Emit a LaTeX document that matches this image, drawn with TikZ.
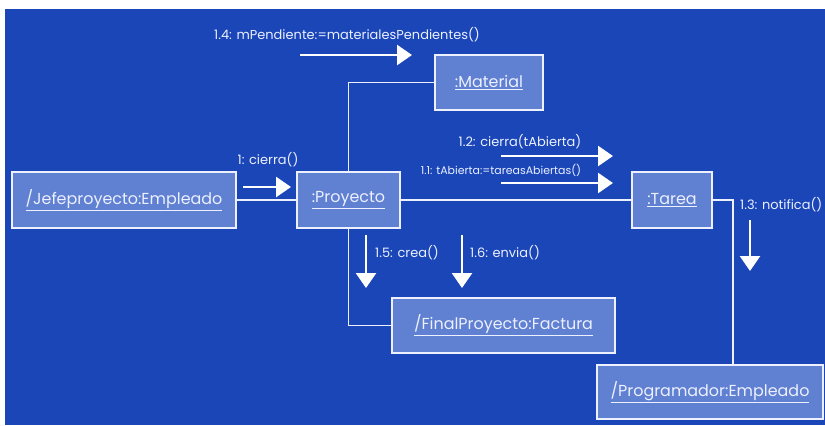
\documentclass[tikz,border=0pt]{standalone}
\usepackage{fontspec}
\setmainfont{Poppins}
\usetikzlibrary{arrows.meta}
\definecolor{fondo}{RGB}{26,70,184}
\definecolor{caja}{RGB}{96,128,210}
\definecolor{tinta}{RGB}{236,240,255}

\begin{document}
\begin{tikzpicture}[x=1bp,y=-1bp,
   objeto/.style={draw=tinta,fill=caja,line width=1.6bp,inner sep=0pt,
      text=tinta,font=\fontsize{16}{18}\selectfont},
   enlace/.style={draw=tinta,line width=1.8bp},
   mensaje/.style={draw=white,line width=2.6bp,
      -{Triangle[length=15bp,width=20bp]}},
   etiqueta/.style={text=tinta,inner sep=0pt,font=\fontsize{13}{15}\selectfont}
]
   \useasboundingbox (0,0) rectangle (825,425);
   \fill[fondo] (5,9) rectangle (825,425);

   % objetos
   \node[objeto,minimum width=224bp,minimum height=56bp] (jefe) at (124,200)
      {\underline{/Jefeproyecto:Empleado}};
   \node[objeto,minimum width=103bp,minimum height=56bp] (proy) at (348.5,200)
      {\underline{:Proyecto}};
   \node[objeto,minimum width=108bp,minimum height=55bp] (mat) at (489,82.5)
      {\underline{:Material}};
   \node[objeto,minimum width=80bp,minimum height=56bp] (tarea) at (672,200)
      {\underline{:Tarea}};
   \node[objeto,minimum width=223bp,minimum height=55bp] (fact) at (503.5,325.5)
      {\underline{/FinalProyecto:Factura}};
   \node[objeto,minimum width=226bp,minimum height=54bp] (prog) at (710,392)
      {\underline{/Programador:Empleado}};

   % enlaces
   \coordinate (codo) at (733,200);
   \draw[enlace] (jefe) -- (proy);
   \draw[enlace] (proy) -- (tarea);
   \draw[enlace] (proy.north) |- (mat.west);
   \draw[enlace] (proy.south) |- (fact.west);
   \draw[enlace] (tarea.east) -- (codo) -- (codo |- prog.north);

   % mensajes
   \coordinate (m14a) at (300,55);  \coordinate (m14b) at (412,55);
   \coordinate (m1a) at (243,187);  \coordinate (m1b) at (291,187);
   \coordinate (m12a) at (501,156); \coordinate (m12b) at (613,156);
   \coordinate (m11a) at (501,183); \coordinate (m11b) at (613,183);
   \coordinate (m15a) at (366,235); \coordinate (m15b) at (366,288);
   \coordinate (m16a) at (462,235); \coordinate (m16b) at (462,288);
   \coordinate (m13a) at (750,220); \coordinate (m13b) at (750,271);
   \foreach \m in {m14,m1,m12,m11,m15,m16,m13} {
      \draw[mensaje] (\m a) -- (\m b);
   }

   \node[etiqueta] (e14) at (347,35) {1.4: mPendiente:=materialesPendientes()};
   \node[etiqueta] (e1) at (268,160) {1: cierra()};
   \node[etiqueta] (e12) at (520,142) {1.2: cierra(tAbierta)};
   \node[etiqueta,font=\fontsize{11}{13}\selectfont] (e11) at (501,170)
      {1.1: tAbierta:=tareasAbiertas()};
   \node[etiqueta,anchor=west] (e15) at (375,253) {1.5: crea()};
   \node[etiqueta,anchor=west] (e16) at (470,253) {1.6: envia()};
   \node[etiqueta,anchor=west] (e13) at (740,205) {1.3: notifica()};
\end{tikzpicture}
\end{document}
